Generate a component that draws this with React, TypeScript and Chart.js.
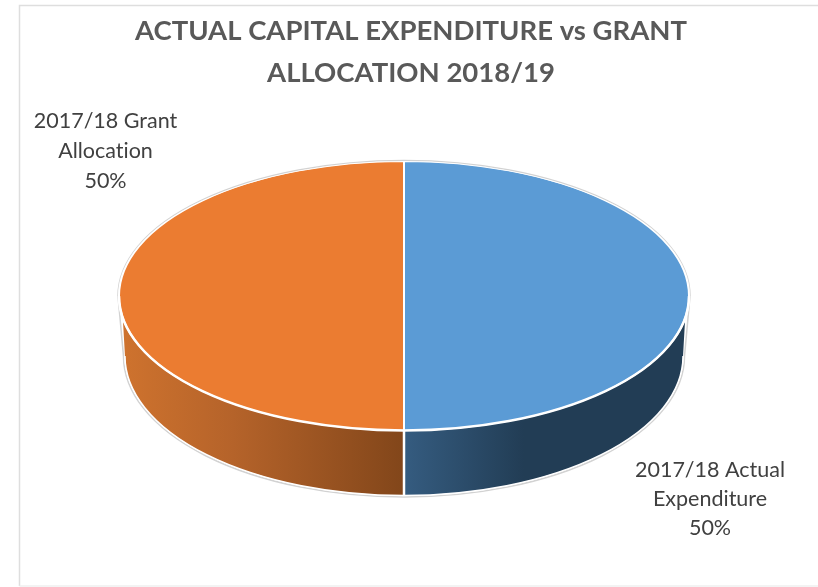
import React, { useEffect, useRef } from "react";
import { Chart, registerables } from "chart.js";

Chart.register(...registerables);

const categories = ["2017/18 Actual Expenditure", "2017/18 Grant Allocation"];
const values = [50, 50];
const sliceColours = ["#5b9bd5", "#eb7c31"];
const titleLines = ["ACTUAL CAPITAL EXPENDITURE vs GRANT", "ALLOCATION 2018/19"];
const labelLines = [
  ["2017/18 Actual", "Expenditure"],
  ["2017/18 Grant", "Allocation"],
];

const TILT = 135 / 286;
const FONT = "Lato, 'Open Sans', sans-serif";

// Base of the disc sits lower and is a little narrower than the top face.
const BASE_DROP = 60;
const BASE_RX_RATIO = 280 / 286;
const BASE_RY_RATIO = 140 / 135;
// The rim only becomes visible this far below the widest point of the top face.
const RIM_START = Math.asin(22 / 135);

// Squashes the flat pie into an ellipse and draws the rim of the disc beneath it.
const discPlugin = {
  id: "disc",
  beforeDatasetDraw(chart: any) {
    const ctx = chart.ctx;
    const arcs = chart.getDatasetMeta(0).data;
    const first = arcs[0].getProps(["x", "y", "outerRadius"], true);
    const cx = first.x;
    const cy = first.y;
    const rx = first.outerRadius;
    const ry = rx * TILT;
    const baseY = cy + BASE_DROP;
    const baseRx = rx * BASE_RX_RATIO;
    const baseRy = ry * BASE_RY_RATIO;

    // soft grey outline round the whole body of the disc
    ctx.save();
    ctx.strokeStyle = "#d2d2d2";
    ctx.lineWidth = 1.5;
    ctx.beginPath();
    ctx.ellipse(cx, cy, rx + 1, ry + 1, 0, Math.PI, 2 * Math.PI);
    ctx.lineTo(cx + baseRx + 1.5, baseY);
    ctx.ellipse(cx, baseY, baseRx + 1.5, baseRy + 1.5, 0, 0, Math.PI);
    ctx.closePath();
    ctx.stroke();
    ctx.restore();

    arcs.forEach((arc: any, i: number) => {
      const { startAngle, endAngle } = arc.getProps(["startAngle", "endAngle"], true);
      const a0 = Math.max(startAngle, 0);
      const a1 = Math.min(endAngle, Math.PI);
      if (a1 <= a0) return;
      const x0 = cx + rx * Math.cos(a1);
      const x1 = cx + rx * Math.cos(a0);
      const grad = ctx.createLinearGradient(x0, 0, x1, 0);
      if (i === 0) {
        grad.addColorStop(0, "#355c80");
        grad.addColorStop(0.42, "#223d55");
        grad.addColorStop(1, "#223d55");
      } else {
        grad.addColorStop(0, "#cf732e");
        grad.addColorStop(0.4, "#b5632a");
        grad.addColorStop(1, "#82461a");
      }
      const topFrom = a0 === 0 ? RIM_START : a0;
      const topTo = a1 === Math.PI ? Math.PI - RIM_START : a1;
      ctx.save();
      ctx.fillStyle = grad;
      ctx.beginPath();
      ctx.ellipse(cx, cy, rx, ry, 0, topFrom, topTo);
      ctx.ellipse(cx, baseY, baseRx, baseRy, 0, a1, a0, true);
      ctx.closePath();
      ctx.fill();
      ctx.restore();
    });

    // front seam and lower edge of the rim
    ctx.save();
    ctx.strokeStyle = "#ffffff";
    ctx.lineWidth = 2.5;
    ctx.beginPath();
    ctx.moveTo(cx, cy + ry);
    ctx.lineTo(cx, baseY + baseRy);
    ctx.stroke();
    ctx.lineWidth = 1.5;
    ctx.beginPath();
    ctx.ellipse(cx, baseY, baseRx, baseRy, 0, 0, Math.PI);
    ctx.stroke();
    ctx.restore();

    ctx.save();
    ctx.translate(cx, cy);
    ctx.scale(1, TILT);
    ctx.translate(-cx, -cy);
  },
  afterDatasetDraw(chart: any) {
    const ctx = chart.ctx;
    ctx.restore();
    const { x, y, outerRadius } = chart.getDatasetMeta(0).data[0].getProps(["x", "y", "outerRadius"], true);
    // bright lip where the top face meets the rim
    ctx.save();
    ctx.strokeStyle = "#ffffff";
    ctx.lineWidth = 2.5;
    ctx.beginPath();
    ctx.ellipse(x, y, outerRadius, outerRadius * TILT, 0, 0, Math.PI);
    ctx.stroke();
    ctx.restore();
  },
};

// Frame, heading and the two slice captions.
const textPlugin = {
  id: "captions",
  beforeDraw(chart: any) {
    const ctx = chart.ctx;
    ctx.save();
    ctx.fillStyle = "#ffffff";
    ctx.fillRect(0, 0, chart.width, chart.height);
    ctx.lineWidth = 1.5;
    ctx.strokeStyle = "#dedede";
    ctx.beginPath();
    ctx.moveTo(818, 5.5);
    ctx.lineTo(19.5, 5.5);
    ctx.lineTo(19.5, 586);
    ctx.stroke();
    ctx.strokeStyle = "#efefef";
    ctx.beginPath();
    ctx.moveTo(19.5, 586);
    ctx.lineTo(818, 586);
    ctx.stroke();
    ctx.restore();
  },
  afterDraw(chart: any) {
    const ctx = chart.ctx;
    const total = values.reduce((a, b) => a + b, 0);
    ctx.save();
    ctx.textAlign = "center";
    ctx.textBaseline = "middle";
    // keep "ti" as two separate letters rather than a ligature
    ctx.textRendering = "optimizeSpeed";
    ctx.fillStyle = "#595959";
    ctx.font = `bold 27.5px ${FONT}`;
    titleLines.forEach((line, i) => ctx.fillText(line, 411, 31 + i * 42));
    ctx.fillStyle = "#404040";
    ctx.font = `21.5px ${FONT}`;
    const anchors = [
      { x: 710, y: 470, step: 29 },
      { x: 105.5, y: 121, step: 30 },
    ];
    labelLines.forEach((lines, i) => {
      const text = [...lines, `${Math.round((values[i] / total) * 100)}%`];
      text.forEach((line, j) => ctx.fillText(line, anchors[i].x, anchors[i].y + j * anchors[i].step));
    });
    ctx.restore();
  },
};

export default function App() {
  const ref = useRef<HTMLCanvasElement>(null);
  useEffect(() => {
    const chart = new Chart(ref.current!, {
      type: "pie",
      data: {
        labels: categories,
        datasets: [
          {
            data: values,
            backgroundColor: sliceColours,
            borderColor: "#ffffff",
            borderWidth: 2,
          },
        ],
      },
      options: {
        responsive: false,
        animation: false,
        layout: { padding: { left: 118, right: 128, top: 10, bottom: 5 } },
        plugins: { legend: { display: false }, tooltip: { enabled: false } },
      },
      plugins: [discPlugin, textPlugin],
    });
    return () => chart.destroy();
  }, []);
  return (
    <div style={{ position: "fixed", left: 0, top: 0, width: 818, height: 587 }}>
      <canvas ref={ref} width={818} height={587} style={{ display: "block" }} />
    </div>
  );
}
